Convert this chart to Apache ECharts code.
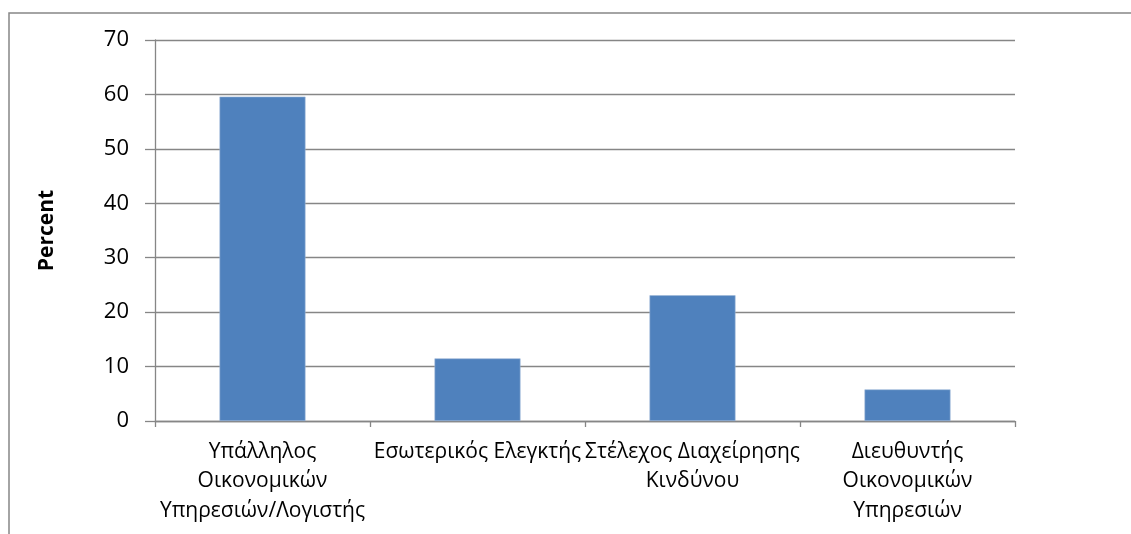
<!DOCTYPE html>
<html>
<head>
<meta charset="utf-8">
<style>
  html, body { margin: 0; padding: 0; background: #fff; }
  #chart { width: 1131px; height: 534px; }
</style>
<script src="https://cdn.jsdelivr.net/npm/echarts@6/dist/echarts.min.js"></script>
</head>
<body>
<div id="chart"></div>
<script>
// Job roles of respondents (percent)
const categories = [
  'Υπάλληλος\nΟικονομικών\nΥπηρεσιών/Λογιστής',
  'Εσωτερικός Ελεγκτής',
  'Στέλεχος Διαχείρησης\nΚινδύνου',
  'Διευθυντής\nΟικονομικών\nΥπηρεσιών'
];
const percentValues = [59.6, 11.5, 23.1, 5.8];
const yAxisTitle = 'Percent';

const font = '"Open Sans", "Liberation Sans", sans-serif';
const axisGray = '#868686';

const chart = echarts.init(document.getElementById('chart'), null, { renderer: 'canvas' });
chart.setOption({
  animation: false,
  backgroundColor: '#fff',
  graphic: [{
    type: 'rect',
    shape: { x: 9, y: 13, width: 1140, height: 540 },
    style: { fill: 'none', stroke: '#878787', lineWidth: 1.5 },
    silent: true
  }],
  grid: { left: 155, right: 116, top: 40, bottom: 113 },
  xAxis: {
    type: 'category',
    data: categories,
    axisLine: { lineStyle: { color: axisGray, width: 1.3 } },
    axisTick: { show: true, alignWithLabel: false, length: 6, lineStyle: { color: axisGray, width: 1.3 } },
    axisLabel: {
      interval: 0,
      color: '#000',
      fontFamily: font,
      fontSize: 21,
      lineHeight: 29.5,
      margin: 16
    }
  },
  yAxis: {
    type: 'value',
    min: 0,
    max: 70,
    interval: 10,
    name: yAxisTitle,
    nameLocation: 'middle',
    nameGap: 97,
    nameRotate: 90,
    nameTextStyle: { color: '#000', fontFamily: font, fontSize: 21, fontWeight: 'bold' },
    axisLine: { show: true, lineStyle: { color: axisGray, width: 1.3 } },
    axisTick: { show: true, length: 10, lineStyle: { color: axisGray, width: 1.3 } },
    axisLabel: { color: '#000', fontFamily: font, fontSize: 22, margin: 26 },
    splitLine: { lineStyle: { color: axisGray, width: 1.3 } }
  },
  series: [{
    type: 'bar',
    data: percentValues,
    barWidth: '40%',
    itemStyle: { color: '#4F81BD', borderColor: '#9db7d9', borderWidth: 0.6 }
  }]
});
</script>
</body>
</html>
